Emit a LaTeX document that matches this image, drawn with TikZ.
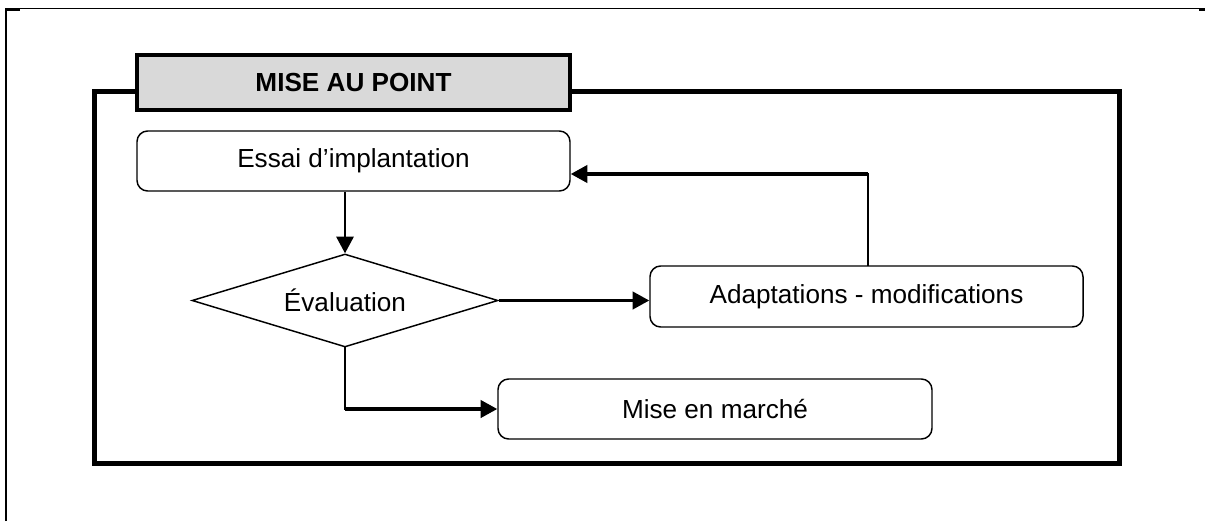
\documentclass[tikz,border=0pt]{standalone}
\usepackage{fontspec}
\setmainfont{Liberation Sans}
\usetikzlibrary{shapes.geometric,arrows.meta}

\tikzset{
    stepbox/.style={rectangle, rounded corners=8pt, draw, line width=1.1pt,
        minimum width=324.75pt, minimum height=45pt, inner sep=0pt,
        font=\fontsize{19.6pt}{23pt}\selectfont},
    testbox/.style={diamond, draw, line width=1.1pt, aspect=3.29, inner sep=0pt,
        minimum width=229.5pt, minimum height=69.75pt,
        font=\fontsize{19.6pt}{23pt}\selectfont},
    link/.style={line width=2.4pt, -{Triangle[length=12.5pt,width=13pt]}},
    leg/.style={line width=1.6pt, line cap=rect}
}

\begin{document}
\begin{tikzpicture}[x=0.75pt, y=-0.75pt]
\useasboundingbox (0,0) rectangle (1205,521);

% page frame
\draw[line width=1.3pt] (6,521) -- (6,8.5) -- (1205,8.5);
\draw[line width=2pt] (5,9.5) -- (20,9.5);
\draw[line width=2pt] (1199,9.5) -- (1205,9.5);

% main frame and title
\draw[line width=3.75pt] (94.5,91.5) rectangle (1119.5,463.5);
\node [rectangle, draw, line width=3pt, fill={rgb,255:red,217;green,217;blue,217},
    minimum width=324.75pt, minimum height=41.25pt, inner sep=0pt,
    font=\fontsize{19.6pt}{23pt}\selectfont\bfseries] (title) at (353.5,82.5) {MISE AU POINT};

% steps
\node [stepbox] (essai) at (353.5,161) {Essai d’implantation};
\node [testbox] (eval) at (345,300.5) {Évaluation};
\node [stepbox, minimum height=45.75pt] (adapt) at (866.5,296.5) {Adaptations - modifications};
\node [stepbox, minimum width=325.5pt] (marche) at (715,409) {Mise en marché};

% connectors
\coordinate (down) at (eval.south |- marche.west);
\coordinate (back) at ([xshift=1pt,yshift=-9.75pt]adapt.north |- essai.east);
\draw [link, line width=1.6pt] (essai.south -| eval.north) -- (eval.north);
\draw [link] (eval.east) -- (eval.east -| adapt.west);
\draw [leg] (eval.south) -- (down);
\draw [link] (down) -- (marche.west);
\draw [leg] ([xshift=1pt]adapt.north) -- (back);
\draw [link] (back) -- (back -| essai.east);
\end{tikzpicture}
\end{document}
